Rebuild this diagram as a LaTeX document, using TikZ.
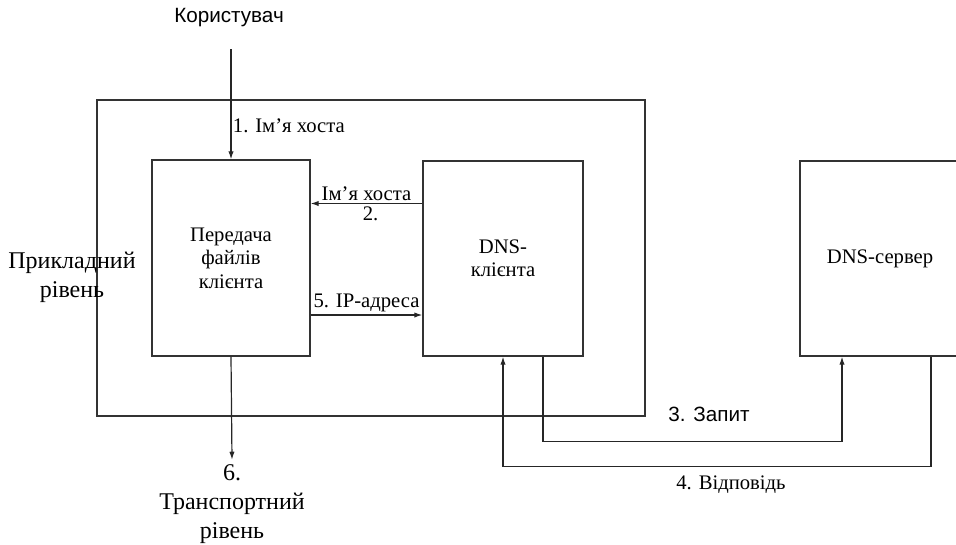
\documentclass[tikz,border=0pt]{standalone}
\usepackage{fontspec}
\setmainfont{Liberation Serif}
\newfontfamily\arialfont{Liberation Sans}
\usetikzlibrary{arrows.meta}

\tikzset{
  box/.style={draw=black!80, line width=1pt, align=center},
  arr/.style={draw=black!85, line width=0.9pt, -{Latex[length=6pt,width=4pt]}},
  lbl/.style={font=\fontsize{15.5}{17.6}\selectfont, inner sep=1pt},
  layer/.style={font=\fontsize{18}{21.8}\selectfont, align=center}
}

\begin{document}
\begin{tikzpicture}[x=0.75pt,y=-0.75pt]
\useasboundingbox (0,0) rectangle (956,544);

% Layer frame
\node[box, minimum width=411pt, minimum height=237pt] (app) at (371,258) {};

% Boxes
\node[box, lbl, minimum width=118.5pt, minimum height=147pt] (ftp) at (231,258)
  {Передача\\файлів\\клієнта};
\node[box, lbl, minimum width=120pt, minimum height=146.25pt] (cli) at (503,258.5)
  {DNS-\\клієнта};
\node[box, lbl, minimum width=120pt, minimum height=146.25pt] (srv) at (880,258.5)
  {DNS-сервер};

% Texts
\node[font=\arialfont\fontsize{15.5}{17.6}\selectfont] (user) at (229,18) {Користувач};
\node[layer] (appl) at (72,277) {Прикладний\\рівень};
\node[layer] (trans) at (232,504) {6.\\Транспортний\\рівень};

% 1. host name
\draw[arr, shorten <=13pt] (user.south -| ftp.north) -- (ftp.north)
  node[lbl, pos=0.74, right] {1. Ім’я хоста};

% 2. and 5.
\draw[arr] ([shift={(0,-55)}]cli.west) coordinate (a2) -- (a2 -| ftp.east)
  node[lbl, midway, above=1pt] {Ім’я хоста}
  node[lbl, midway, below=1pt, xshift=3pt] {2.};
\draw[arr] ([shift={(0,57)}]ftp.east) coordinate (a5) -- (a5 -| cli.west)
  node[lbl, midway, above=1pt] {5. IP-адреса};

% 6. down to transport
\draw[arr] (ftp.south) -- (trans.north);

% 3. query and 4. answer
\draw[arr] ([shift={(40,0)}]cli.south) -- ++(0,85) -| ([shift={(-38,0)}]srv.south);
\node[font=\arialfont\fontsize{15.5}{17.6}\selectfont] (q3) at (709,414) {3. Запит};
\draw[arr] ([shift={(51,0)}]srv.south) -- ++(0,110) -| (cli.south);
\node[lbl] (a4) at (731,485) {4. Відповідь};

\end{tikzpicture}
\end{document}
